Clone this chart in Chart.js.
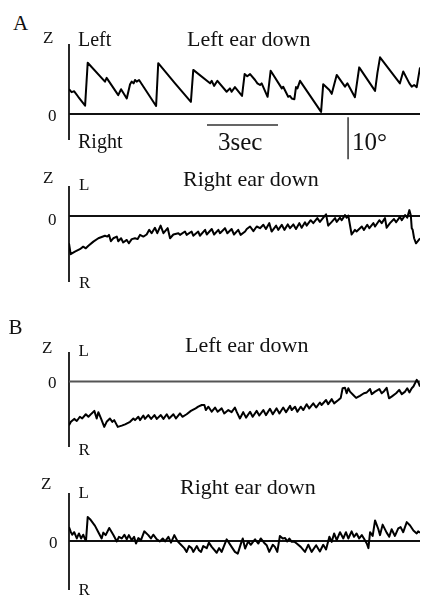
<!DOCTYPE html>
<html>
<head>
<meta charset="utf-8">
<script src="https://cdn.jsdelivr.net/npm/chart.js@4.4.1/dist/chart.umd.min.js"></script>
<style>
  html, body { margin: 0; padding: 0; background: #fff; }
  #fig { position: relative; width: 422px; height: 596px; overflow: hidden;
         font-family: "Liberation Serif", "Times New Roman", serif; color: #111; }
  #fig canvas { position: absolute; left: 0; }
  .lbl { position: absolute; white-space: nowrap; line-height: 1; }
</style>
</head>
<body>
<div id="fig"></div>
<script>
// eye position traces: [time (s), position (deg, + = left)]
const leftEarDownA = [[0,5.9],[0.11,5.2],[0.22,5.4],[0.39,4.1],[0.68,2.0],[0.79,12.2],[1.52,7.7],[1.59,8.6],[2.08,4.5],[2.20,5.9],
  [2.44,3.7],[2.58,7.1],[2.65,7.7],[2.73,7.3],[2.79,8.1],[2.86,7.7],[2.96,8.1],[3.68,1.9],[3.77,12.1],[4.48,7.3],
  [5.15,2.9],[5.25,10.5],[5.96,7.3],[6.03,7.9],[6.13,6.7],[6.27,7.9],[6.66,5.3],[6.80,6.1],[6.87,5.3],[7.01,6.4],
  [7.31,4.3],[7.42,9.5],[7.53,9.0],[7.65,9.5],[7.86,8.1],[7.96,7.3],[8.07,6.9],[8.14,7.3],[8.39,4.1],[8.52,10.3],
  [8.99,6.1],[9.05,6.5],[9.26,4.1],[9.34,4.3],[9.41,3.7],[9.52,3.5],[9.59,6.4],[9.65,6.1],[9.76,7.9],[10.65,0.5],
  [10.74,7.1],[11.00,5.7],[11.10,4.8],[11.31,9.3],[11.66,6.5],[11.76,7.3],[12.08,4.0],[12.26,11.1],[12.93,5.5],[13.03,9.8],
  [13.14,13.5],[13.98,7.3],[14.12,10.1],[14.38,7.3],[14.48,6.5],[14.58,6.9],[14.69,6.4],[14.83,11.1]];

const rightEarDownA = [[0,-6.5],[0.07,-9.1],[0.25,-8.5],[0.46,-7.9],[0.60,-7.3],[0.71,-7.7],[0.82,-7.1],[1.03,-6.1],[1.24,-5.3],[1.52,-4.7],
  [1.62,-4.9],[1.69,-4.5],[1.77,-6.0],[1.87,-5.3],[2.02,-4.9],[2.08,-6.0],[2.20,-5.3],[2.29,-6.3],[2.44,-5.7],[2.53,-6.5],
  [2.65,-5.5],[2.79,-5.3],[2.90,-5.5],[3.00,-4.5],[3.14,-4.9],[3.28,-4.4],[3.39,-3.3],[3.49,-4.1],[3.63,-2.8],[3.73,-4.1],
  [3.87,-2.3],[3.99,-4.1],[4.17,-2.9],[4.27,-5.3],[4.41,-4.4],[4.62,-4.1],[4.69,-4.5],[4.90,-3.7],[4.97,-4.5],[5.18,-3.7],
  [5.25,-4.7],[5.46,-3.7],[5.53,-4.7],[5.75,-3.3],[5.82,-4.4],[6.03,-3.1],[6.13,-4.4],[6.31,-3.3],[6.38,-4.1],[6.59,-2.9],
  [6.69,-4.1],[6.87,-3.1],[6.97,-4.4],[7.15,-3.3],[7.25,-4.5],[7.44,-3.7],[7.51,-3.1],[7.65,-2.5],[7.79,-3.6],[7.93,-2.5],
  [8.07,-2.9],[8.21,-2.1],[8.32,-3.1],[8.46,-1.7],[8.56,-3.7],[8.75,-2.3],[8.84,-3.3],[8.99,-2.1],[9.10,-3.3],[9.24,-2.0],
  [9.34,-2.9],[9.48,-2.0],[9.59,-3.1],[9.73,-1.7],[9.83,-2.8],[9.97,-1.5],[10.04,-2.3],[10.21,-1.0],[10.32,-1.7],[10.49,-0.5],
  [10.60,-1.4],[10.77,-0.2],[10.86,0.4],[10.95,-2.3],[11.10,-1.4],[11.24,-0.5],[11.31,-1.4],[11.45,-0.4],[11.52,-1.0],[11.66,0.2],
  [11.73,-0.4],[11.80,0.1],[11.94,-4.4],[12.08,-3.3],[12.15,-3.7],[12.37,-2.5],[12.46,-3.3],[12.60,-2.1],[12.69,-2.9],[12.86,-1.7],
  [12.93,-2.5],[13.11,-1.0],[13.21,-1.7],[13.35,-0.5],[13.42,-2.8],[13.56,-1.7],[13.73,-0.7],[13.82,-1.5],[13.98,-0.2],[14.06,-1.0],
  [14.20,0.2],[14.29,-0.4],[14.38,1.4],[14.44,0.2],[14.48,-2.9],[14.52,-3.3],[14.58,-5.3],[14.66,-6.5],[14.83,-5.3]];

const leftEarDownB = [[0,-10.4],[0.08,-9.6],[0.22,-8.9],[0.33,-9.4],[0.46,-8.4],[0.56,-8.8],[0.71,-7.8],[0.82,-8.4],[0.96,-7.6],[1.07,-7.0],
  [1.17,-8.8],[1.24,-7.3],[1.35,-8.8],[1.49,-10.8],[1.59,-9.6],[1.73,-8.8],[1.83,-9.6],[1.91,-9.2],[2.06,-10.8],[2.23,-10.5],
  [2.37,-10.2],[2.58,-9.6],[2.72,-8.8],[2.79,-9.2],[2.93,-8.4],[3.00,-9.2],[3.14,-8.1],[3.21,-8.9],[3.35,-8.0],[3.47,-8.9],
  [3.61,-8.0],[3.71,-8.9],[3.88,-8.0],[3.99,-8.9],[4.13,-7.8],[4.23,-8.8],[4.41,-7.8],[4.52,-8.8],[4.69,-7.6],[4.79,-8.4],
  [4.97,-7.8],[5.15,-7.0],[5.35,-6.4],[5.46,-6.0],[5.61,-5.6],[5.72,-5.6],[5.78,-6.8],[5.89,-6.0],[6.03,-7.2],[6.17,-6.2],
  [6.28,-7.2],[6.45,-6.4],[6.56,-7.6],[6.73,-6.8],[6.87,-7.3],[7.01,-6.2],[7.09,-7.3],[7.22,-8.8],[7.36,-7.3],[7.48,-8.6],
  [7.65,-7.2],[7.76,-8.4],[7.93,-7.0],[8.04,-8.1],[8.21,-6.8],[8.32,-8.0],[8.49,-6.5],[8.61,-7.8],[8.77,-6.4],[8.89,-7.6],
  [9.05,-6.2],[9.17,-7.3],[9.34,-5.8],[9.41,-6.8],[9.55,-6.0],[9.65,-7.2],[9.79,-6.0],[9.90,-6.8],[10.04,-5.4],[10.15,-6.4],
  [10.32,-5.2],[10.44,-6.2],[10.60,-5.0],[10.67,-5.6],[10.86,-4.4],[10.95,-5.4],[11.10,-4.2],[11.20,-5.2],[11.38,-4.4],[11.48,-3.9],
  [11.56,-1.6],[11.66,-1.5],[11.73,-2.8],[11.80,-1.6],[11.87,-2.4],[12.01,-3.2],[12.13,-3.9],[12.29,-3.4],[12.46,-2.8],[12.58,-2.6],
  [12.72,-1.8],[12.79,-3.0],[12.93,-2.4],[13.11,-1.8],[13.21,-2.8],[13.31,-2.3],[13.42,-1.5],[13.52,-4.0],[13.63,-3.6],[13.82,-2.8],
  [13.95,-2.0],[14.06,-3.0],[14.20,-2.4],[14.29,-1.6],[14.38,-2.6],[14.48,-1.6],[14.55,-1.2],[14.69,0.4],[14.76,-0.2],[14.83,-1.2]];

const rightEarDownB = [[0,3.3],[0.08,2.1],[0.14,1.5],[0.22,2.1],[0.33,0.6],[0.42,1.8],[0.51,0.6],[0.60,1.5],[0.68,0.4],[0.72,0.2],
  [0.79,5.7],[0.89,5.2],[1.10,3.6],[1.24,2.1],[1.38,0.6],[1.45,2.0],[1.55,1.4],[1.70,3.1],[1.87,1.5],[2.02,-0.1],
  [2.11,1.0],[2.23,0.6],[2.34,1.5],[2.44,0.4],[2.53,1.4],[2.65,0.2],[2.75,1.0],[2.83,-0.6],[2.93,0.7],[3.04,0.2],
  [3.18,2.3],[3.35,1.4],[3.46,0.6],[3.56,1.5],[3.71,0.4],[3.84,-0.1],[3.96,0.6],[4.06,-0.1],[4.20,1.0],[4.31,-0.4],
  [4.45,1.4],[4.59,-0.1],[4.73,-0.9],[4.87,-1.7],[4.97,-2.6],[5.07,-1.2],[5.18,-1.7],[5.25,-2.6],[5.40,-1.2],[5.49,-2.2],
  [5.58,-2.6],[5.67,-1.2],[5.82,-1.7],[5.91,-0.4],[6.03,-1.4],[6.24,-2.8],[6.34,-1.7],[6.45,-2.6],[6.66,0.4],[6.87,-1.4],
  [7.01,-2.6],[7.13,-3.0],[7.27,-0.5],[7.34,0.6],[7.44,-1.8],[7.57,-0.1],[7.68,-0.9],[7.79,-0.1],[7.86,0.4],[8.00,-0.6],
  [8.10,0.6],[8.24,-0.4],[8.35,-1.0],[8.46,-2.6],[8.61,-0.9],[8.70,-1.4],[8.80,-2.6],[8.91,1.2],[9.03,0.6],[9.13,0.7],
  [9.22,-0.1],[9.31,0.6],[9.41,-0.2],[9.51,-0.1],[9.62,-0.6],[9.79,-1.4],[9.97,-2.6],[10.11,-0.9],[10.25,-2.6],[10.44,-1.0],
  [10.60,-2.5],[10.74,-0.9],[10.86,-2.0],[11.00,1.0],[11.10,-0.2],[11.20,1.8],[11.31,0.2],[11.45,2.1],[11.59,0.6],[11.70,2.1],
  [11.80,0.6],[11.94,2.3],[12.04,1.0],[12.15,1.8],[12.26,0.6],[12.37,1.4],[12.46,0.6],[12.58,-0.6],[12.65,-1.7],[12.72,2.1],
  [12.83,1.2],[12.93,4.9],[13.07,2.8],[13.14,1.4],[13.25,3.9],[13.42,2.0],[13.53,1.0],[13.63,2.8],[13.77,1.2],[13.91,3.0],
  [14.01,3.3],[14.12,2.1],[14.27,4.5],[14.41,3.7],[14.55,2.5],[14.69,1.8],[14.75,2.3],[14.83,2.0]];

const panelTitles = ['Left ear down', 'Right ear down', 'Left ear down', 'Right ear down'];

// calibration bars (panel A)
const timeBarStart = 5.83, timeBarLen = 3, timeBarPos = -2.6;
const degBarTime = 11.79, degBarTop = -0.8, degBarLen = 10;

// layout
const SEC_PX = 23.67, DEG_PX = 4.2, PLOT_LEFT = 69, PLOT_RIGHT = 420, W = 422;
const T_END = (PLOT_RIGHT - PLOT_LEFT) / SEC_PX;

const panels = [
  { data: leftEarDownA,  zero: 114,   axisTop: 44,  axisBottom: 140, top: 38,  bottom: 166, zeroColor: '#111', bars: true },
  { data: rightEarDownA, zero: 216,   axisTop: 186, axisBottom: 282, top: 180, bottom: 288, zeroColor: '#111' },
  { data: leftEarDownB,  zero: 381.5, axisTop: 352, axisBottom: 447, top: 346, bottom: 453, zeroColor: '#555' },
  { data: rightEarDownB, zero: 541,   axisTop: 493, axisBottom: 590, top: 487, bottom: 596, zeroColor: '#111' }
];

const labels = [
  ['A', 13, 31, 21],
  ['Z', 43, 43.5, 17], ['Left', 78, 46, 20], [panelTitles[0], 187, 46, 22], ['0', 48, 121.5, 17],
  ['Right', 78, 147.5, 20], ['3sec', 218, 150, 25], ['10°', 352, 150, 25],
  ['Z', 43, 183.5, 17], ['L', 79, 190.5, 17], [panelTitles[1], 183, 186, 22], ['0', 48, 225, 17], ['R', 79, 288.5, 17],
  ['B', 8.5, 335, 21],
  ['Z', 42, 353.5, 17], ['L', 78.5, 356.5, 17], [panelTitles[2], 185, 352.5, 22], ['0', 48, 388.5, 17], ['R', 78.5, 455, 17],
  ['Z', 41, 489.5, 17], ['L', 78.5, 498.5, 17], [panelTitles[3], 180, 494.5, 22], ['0', 49, 548.5, 17], ['R', 78.5, 595, 17]
];

const fig = document.getElementById('fig');

const traceAxes = {
  id: 'traceAxes',
  beforeDatasetsDraw(chart, args, opts) {
    const { ctx, chartArea, scales: { x, y } } = chart;
    ctx.save();
    ctx.lineWidth = 1.8;
    ctx.strokeStyle = '#111';
    ctx.beginPath();
    ctx.moveTo(chartArea.left, y.getPixelForValue(opts.axisTop));
    ctx.lineTo(chartArea.left, y.getPixelForValue(opts.axisBottom));
    ctx.stroke();
    ctx.strokeStyle = opts.zeroColor;
    ctx.beginPath();
    ctx.moveTo(chartArea.left, y.getPixelForValue(0));
    ctx.lineTo(chartArea.right, y.getPixelForValue(0));
    ctx.stroke();
    if (opts.bars) {
      ctx.strokeStyle = '#333';
      ctx.lineWidth = 1.5;
      ctx.beginPath();
      ctx.moveTo(x.getPixelForValue(timeBarStart), y.getPixelForValue(timeBarPos));
      ctx.lineTo(x.getPixelForValue(timeBarStart + timeBarLen), y.getPixelForValue(timeBarPos));
      ctx.moveTo(x.getPixelForValue(degBarTime), y.getPixelForValue(degBarTop));
      ctx.lineTo(x.getPixelForValue(degBarTime), y.getPixelForValue(degBarTop - degBarLen));
      ctx.stroke();
    }
    ctx.restore();
  }
};

panels.forEach(p => {
  const h = p.bottom - p.top;
  const canvas = document.createElement('canvas');
  canvas.width = W;
  canvas.height = h;
  canvas.style.top = p.top + 'px';
  fig.appendChild(canvas);
  new Chart(canvas.getContext('2d'), {
    type: 'line',
    data: {
      datasets: [{
        data: p.data.map(d => ({ x: d[0], y: d[1] })),
        borderColor: '#000',
        borderWidth: 2,
        borderJoinStyle: 'round',
        pointRadius: 0,
        tension: 0,
        fill: false
      }]
    },
    options: {
      responsive: false,
      animation: false,
      layout: { padding: { left: PLOT_LEFT, right: W - PLOT_RIGHT, top: 0, bottom: 0 } },
      scales: {
        x: { type: 'linear', display: false, min: 0, max: T_END },
        y: { display: false, min: (p.zero - p.bottom) / DEG_PX, max: (p.zero - p.top) / DEG_PX }
      },
      plugins: {
        legend: { display: false },
        tooltip: { enabled: false },
        traceAxes: {
          axisTop: (p.zero - p.axisTop) / DEG_PX,
          axisBottom: (p.zero - p.axisBottom) / DEG_PX,
          zeroColor: p.zeroColor,
          bars: !!p.bars
        }
      }
    },
    plugins: [traceAxes]
  });
});

labels.forEach(([text, left, baseline, size]) => {
  const el = document.createElement('div');
  el.className = 'lbl';
  el.textContent = text;
  el.style.fontSize = size + 'px';
  el.style.left = left + 'px';
  el.style.top = (baseline - 0.8375 * size) + 'px';
  fig.appendChild(el);
});
</script>
</body>
</html>
